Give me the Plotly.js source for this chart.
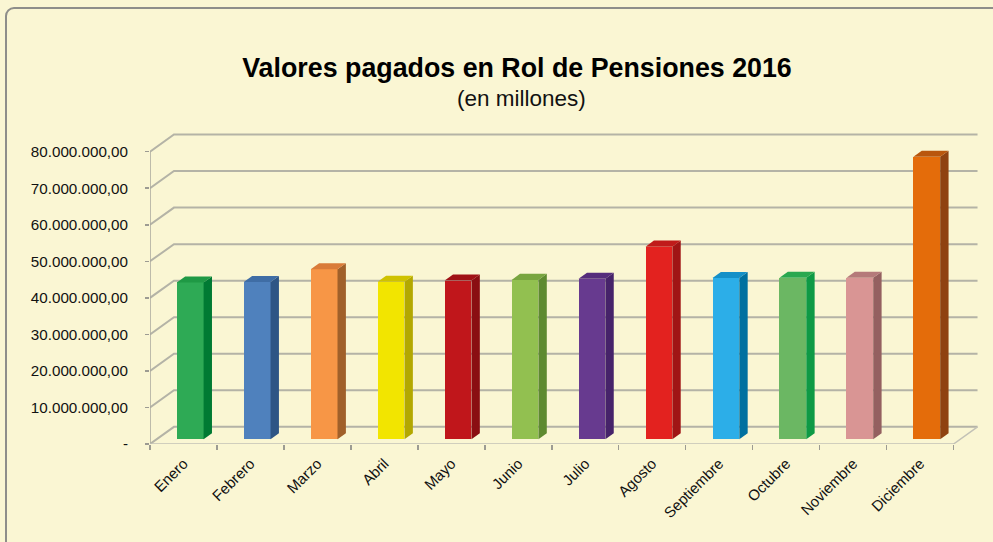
<!DOCTYPE html>
<html>
<head>
<meta charset="utf-8">
<script src="https://cdn.plot.ly/plotly-3.0.1.min.js"></script>
<style>
  html, body { margin:0; padding:0; background:#FAF6D3; }
  #wrap { position:relative; width:993px; height:542px; overflow:hidden; }
  #chart { position:absolute; left:0; top:0; width:993px; height:542px; }
  #frame { position:absolute; left:5px; top:7px; width:1010px; height:560px;
           border:2px solid #8E8E8A; border-radius:9px; pointer-events:none; box-sizing:border-box; }
</style>
</head>
<body>
<div id="wrap">
  <div id="chart"></div>
  <div id="frame"></div>
</div>
<script>
// ---- data ----
const meses = ["Enero","Febrero","Marzo","Abril","Mayo","Junio","Julio","Agosto","Septiembre","Octubre","Noviembre","Diciembre"];
const valores = [42.9e6, 43.0e6, 46.5e6, 43.1e6, 43.4e6, 43.6e6, 43.9e6, 52.7e6, 44.1e6, 44.2e6, 44.2e6, 77.3e6];
const colorFrente = ["#2EAA55","#4F81BD","#F79646","#F2E500","#C0161B","#92C050","#673A8F","#E3221F","#2CAEE8","#6BB763","#D99594","#E46C0A"];
const colorLado   = ["#007A33","#2E5585","#A0602A","#B3A800","#8A0E12","#5E8A30","#46236A","#A01515","#0070A0","#0E9A45","#946060","#8F4211"];
const colorTecho  = ["#1F9945","#3F6DA5","#D97B39","#CFC200","#A01216","#78A540","#552D7C","#C01B1A","#1590C8","#2AA850","#B57A7A","#B9560D"];
const yTicks    = [0, 10e6, 20e6, 30e6, 40e6, 50e6, 60e6, 70e6, 80e6];
const yTickText = ["-", "10.000.000,00", "20.000.000,00", "30.000.000,00", "40.000.000,00",
                   "50.000.000,00", "60.000.000,00", "70.000.000,00", "80.000.000,00"];
const titulo = "Valores pagados en Rol de Pensiones 2016";
const subtitulo = "(en millones)";

// ---- geometry (3D look) ----
const xmin = -0.5, xmax = 11.88, ymax = 85.66e6;
const nCat = meses.length;
const prof = { dx: 0.358, dy: 4.7e6 };   // depth of floor / walls in data units
const f0 = 0.28, f1 = 0.63, bw = 0.40;   // bar depth position and width
const gridColor = "#B4B3A6";
const fontFam = "'Liberation Sans', Arial, Helvetica, sans-serif";

const shapes = [];
// back-wall gridlines with left-wall diagonals
yTicks.forEach(t => {
  shapes.push({ type:"path", xref:"x", yref:"y", layer:"below",
    path:`M ${xmin},${t} L ${xmin+prof.dx},${t+prof.dy} L ${nCat-0.5+prof.dx},${t+prof.dy}`,
    line:{ color:gridColor, width:2 } });
});
// front-left edge of the wall
shapes.push({ type:"line", xref:"x", yref:"y", layer:"below",
  x0:xmin, x1:xmin, y0:0, y1:yTicks[yTicks.length-1], line:{ color:"#A8A79C", width:1.5 } });
// floor front and right edges
shapes.push({ type:"path", xref:"x", yref:"y", layer:"below",
  path:`M ${xmin},0 L ${nCat-0.5},0 L ${nCat-0.5+prof.dx},${prof.dy}`,
  line:{ color:"#C2C1B6", width:1.5 } });

const traces = [];
const base = f0 * prof.dy;
const shiftX = f0 * prof.dx;
const ddx = (f1 - f0) * prof.dx, ddy = (f1 - f0) * prof.dy;

// front faces
traces.push({
  type:"bar", x: meses.map((_, i) => i + shiftX), y: valores,
  base: valores.map(() => base), width: bw,
  marker:{ color: colorFrente, line:{ width:0 } },
  hoverinfo:"skip", showlegend:false
});
// side and top faces
valores.forEach((v, i) => {
  const xr = i + shiftX + bw/2, xl = xr - bw;
  traces.push({ type:"scatter", mode:"lines", fill:"toself",
    x:[xr, xr+ddx, xr+ddx, xr, xr], y:[base, base+ddy, base+ddy+v, base+v, base],
    fillcolor: colorLado[i], line:{ width:0, color: colorLado[i] }, hoverinfo:"skip", showlegend:false });
  traces.push({ type:"scatter", mode:"lines", fill:"toself",
    x:[xl, xr, xr+ddx, xl+ddx, xl], y:[base+v, base+v, base+v+ddy, base+v+ddy, base+v],
    fillcolor: colorTecho[i], line:{ width:0, color: colorTecho[i] }, hoverinfo:"skip", showlegend:false });
});

const M = { l:150, r:14, t:131, b:98 };
const plotW = 993 - M.l - M.r, plotH = 542 - M.t - M.b;

const layout = {
  width: 993, height: 542,
  margin: M,
  paper_bgcolor: "rgba(0,0,0,0)",
  plot_bgcolor: "rgba(0,0,0,0)",
  font: { family: fontFam, color: "#111" },
  showlegend: false,
  title: {
    text: "<b>" + titulo + "</b>",
    font: { family: fontFam, size: 26.8, color: "#000" },
    xref: "container", x: 517/993, xanchor: "center",
    yref: "container", y: 1 - 68/542, yanchor: "middle"
  },
  annotations: [{
    text: subtitulo, showarrow: false,
    xref: "paper", yref: "paper",
    x: (521 - M.l)/plotW, y: (542 - M.b - 98)/plotH,
    xanchor: "center", yanchor: "middle",
    font: { family: fontFam, size: 22.5, color: "#111" }
  }],
  xaxis: {
    range: [xmin, xmax], fixedrange: true,
    tickmode: "array", tickvals: meses.map((_, i) => i), ticktext: meses,
    tickangle: -45, ticks: "", showgrid: false, zeroline: false, showline: false,
    tickfont: { family: fontFam, size: 15, color: "#111" },
    ticklabelstandoff: 7,
    minor: { tickmode: "linear", tick0: -0.5, dtick: 1, ticks: "outside", ticklen: 5,
             tickwidth: 1.5, tickcolor: "#9C9B92", showgrid: false }
  },
  yaxis: {
    range: [0, ymax], fixedrange: true,
    tickmode: "array", tickvals: yTicks, ticktext: yTickText,
    ticks: "outside", ticklen: 4, tickwidth: 1.5, tickcolor: "#9C9B92",
    showgrid: false, zeroline: false, showline: false,
    tickfont: { family: fontFam, size: 15.2, color: "#111" },
    ticklabelstandoff: 14
  },
  shapes: shapes,
  bargap: 0
};

Plotly.newPlot("chart", traces, layout, { staticPlot: true, displayModeBar: false });
</script>
</body>
</html>
